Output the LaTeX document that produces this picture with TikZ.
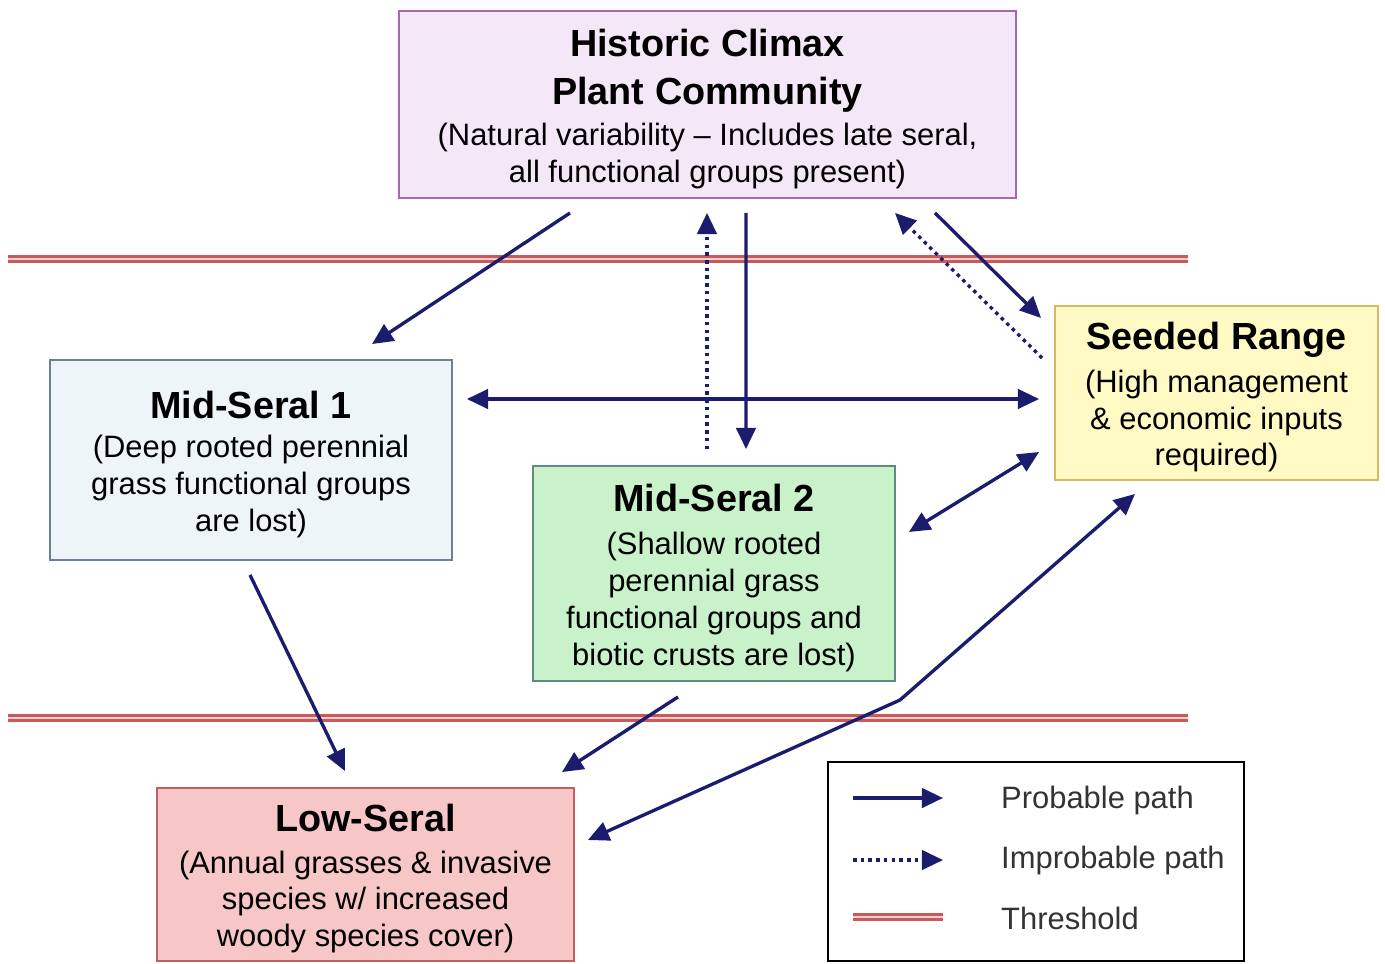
\documentclass[tikz,border=0pt]{standalone}
\usepackage{fontspec}
\setmainfont{Liberation Sans}
\usetikzlibrary{arrows.meta,calc}
\definecolor{pathblue}{HTML}{1C1C6E}
\definecolor{thresred}{HTML}{C85A5A}
\definecolor{thresfill}{HTML}{F3D0D0}
\definecolor{hcmfill}{HTML}{F4E8F8}
\definecolor{hcmdraw}{HTML}{A868B0}
\definecolor{msonefill}{HTML}{EEF5F9}
\definecolor{msonedraw}{HTML}{6E7F9A}
\definecolor{mstwofill}{HTML}{C9F2CB}
\definecolor{mstwodraw}{HTML}{5E8C80}
\definecolor{seedfill}{HTML}{FFF9C4}
\definecolor{seeddraw}{HTML}{D8B860}
\definecolor{lowfill}{HTML}{F7C6C6}
\definecolor{lowdraw}{HTML}{C06060}
\newcommand{\stagetitle}[1]{{\fontsize{21.5}{26}\selectfont\bfseries #1}}
\newcommand{\topstrut}{\rule{0pt}{20.5pt}}
\tikzset{
  stage/.style={draw,line width=1.1pt,align=center,inner sep=0pt,
    font=\fontsize{17.6}{21}\selectfont},
  prob/.style={pathblue,line width=1.9pt,-{Triangle[length=12pt,width=11pt]}},
  twoway/.style={prob,{Triangle[length=12pt,width=11pt]}-{Triangle[length=12pt,width=11pt]}},
  improb/.style={prob,dash pattern=on 2pt off 2.4pt},
  threshold/.style={draw=thresred,line width=1.2pt,double=thresfill,double distance=1.6pt},
  legendtext/.style={anchor=west,font=\fontsize{17.6}{21}\selectfont,text=black!80}
}

\begin{document}
\begin{tikzpicture}[x=0.02cm,y=-0.02cm]
    \fill[white] (0,0) rectangle (1385,963);
    \useasboundingbox (0,0) rectangle (1385,963);
    % thresholds
    \draw[threshold] (8,259) -- (1188,259);
    \draw[threshold] (8,718) -- (1188,718);
    % states
    \node[stage,fill=hcmfill,draw=hcmdraw,minimum width=12.34cm,minimum height=3.74cm] (hcm) at (707.5,104.5)
      {\topstrut\stagetitle{Historic Climax}\\[6.5pt]\stagetitle{Plant Community}\\[2.5pt]
       (Natural variability -- Includes late seral,\\all functional groups present)};
    \node[stage,fill=msonefill,draw=msonedraw,minimum width=8.04cm,minimum height=4cm] (ms1) at (251,460)
      {\topstrut\stagetitle{Mid-Seral 1}\\[1.5pt](Deep rooted perennial\\grass functional groups\\are lost)};
    \node[stage,fill=mstwofill,draw=mstwodraw,minimum width=7.24cm,minimum height=4.3cm] (ms2) at (714,573.5)
      {\topstrut\stagetitle{Mid-Seral 2}\\[3.5pt](Shallow rooted\\perennial grass\\functional groups and\\biotic crusts are lost)};
    \node[stage,fill=seedfill,draw=seeddraw,minimum width=6.46cm,minimum height=3.48cm] (seed) at (1216.5,393)
      {\topstrut\stagetitle{Seeded Range}\\[3.2pt](High management\\\& economic inputs\\required)};
    \node[stage,fill=lowfill,draw=lowdraw,minimum width=8.34cm,minimum height=3.46cm] (low) at (365.5,874.5)
      {\topstrut\stagetitle{Low-Seral}\\[2.5pt](Annual grasses \& invasive\\species w/ increased\\woody species cover)};
    % transitions
    \draw[prob] ($(hcm.south)+(-137.5,14)$) -- ($(ms1.north)+(121,-15)$);
    \draw[improb] ($(ms2.north)+(-7,-16)$) -- ($(hcm.south)+(-0.5,14)$);
    \draw[prob] ($(hcm.south)+(38.5,14)$) -- ($(ms2.north)+(32,-16)$);
    \draw[prob] ($(hcm.south)+(227.5,14)$) -- ($(seed.west)+(-13,-75)$);
    \draw[improb] ($(seed.west)+(-12,-35)$) -- ($(hcm.south)+(187.5,14)$);
    \draw[twoway] ($(ms1.east)+(14,-61)$) -- ($(seed.west)+(-15,6)$);
    \draw[twoway] ($(ms2.east)+(13,-41.5)$) -- ($(seed.west)+(-15,59)$);
    \draw[prob] ($(ms1.south)+(-1,14)$) -- ($(low.north)+(-20.5,-16)$);
    \draw[prob] ($(ms2.south)+(-36,15)$) -- ($(low.north)+(196.5,-15)$);
    \coordinate (kink) at (900,700);
    \draw[twoway] ($(low.east)+(13,-34.5)$) -- (kink) -- ($(seed.south)+(-81.5,13)$);
    % legend
    \node[draw=black,line width=1pt,minimum width=8.32cm,minimum height=3.98cm] (key) at (1036,861.5) {};
    \coordinate (kp1) at (853,798);
    \coordinate (kp2) at (943,798);
    \coordinate (ki1) at (853,860);
    \coordinate (ki2) at (943,860);
    \coordinate (kt1) at (853,917);
    \coordinate (kt2) at (943,917);
    \draw[prob] (kp1) -- (kp2);
    \draw[improb] (ki1) -- (ki2);
    \draw[threshold] (kt1) -- (kt2);
    \node[legendtext] (kpl) at (995,800) {Probable path};
    \node[legendtext] (kil) at (995,860) {Improbable path};
    \node[legendtext] (ktl) at (995,918) {Threshold};
\end{tikzpicture}
\end{document}
